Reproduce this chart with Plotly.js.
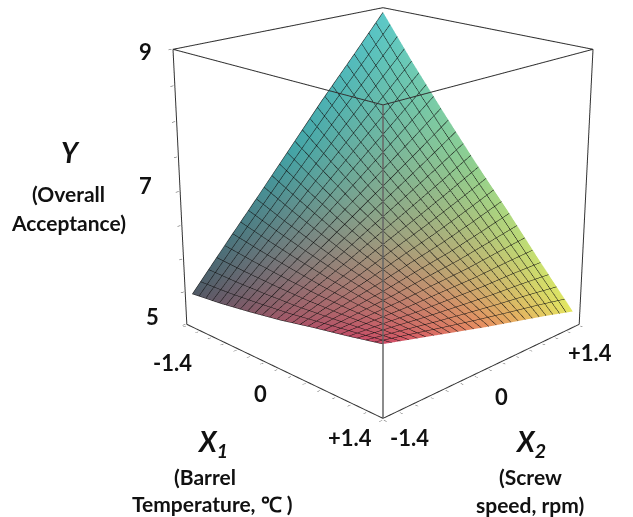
<!DOCTYPE html>
<html><head><meta charset="utf-8">
<script src="https://cdn.plot.ly/plotly-3.0.1.min.js"></script>
<style>html,body{margin:0;padding:0;background:#fff;overflow:hidden;width:633px;height:517px}
#c{position:absolute;left:-317px;top:-381px;width:1400px;height:1145px}</style>
</head><body><div id="c"></div>
<script>
const x1Coded = [-1.35,-0.9,-0.45,0,0.45,0.9,1.35];
const x2Coded = [-1.35,-0.9,-0.45,0,0.45,0.9,1.35];
// rows: X2, columns: X1
const overall = [
 [5.47,5.52,5.59,5.67,5.77,5.86,5.96],
 [6.06,5.99,5.93,5.88,5.85,5.84,5.83],
 [6.64,6.44,6.26,6.09,5.94,5.81,5.70],
 [7.23,6.91,6.60,6.32,6.05,5.80,5.57],
 [7.82,7.37,6.94,6.54,6.15,5.79,5.45],
 [8.38,7.82,7.28,6.77,6.28,5.80,5.33],
 [8.95,8.27,7.63,7.01,6.42,5.80,5.20]];
const xTicks = [-1.4,-1.2,-1,-0.8,-0.6,-0.4,-0.2,0,0.2,0.4,0.6,0.8,1,1.2,1.4];
const zTicks = [5,5.5,6,6.5,7,7.5,8,8.5,9];
const colorKeys = [
 [[80,90,102],[160,88,104],[208,74,104]],
 [[66,165,168],[154,158,128],[232,144,96]],
 [[92,200,200],[143,208,144],[229,232,96]]];
const L=-317,T=-381,W=1400,H=1145;
function mix(a,b,t){return a.map((v,i)=>v+(b[i]-v)*t);}
function colorAt(i,j){
  const r=j/3,c=i/3,r0=Math.min(Math.floor(r),1),c0=Math.min(Math.floor(c),1);
  const top=mix(colorKeys[r0][c0],colorKeys[r0][c0+1],c-c0);
  const bot=mix(colorKeys[r0+1][c0],colorKeys[r0+1][c0+1],c-c0);
  const m=mix(top,bot,r-r0);
  return 'rgb('+m.map(Math.round).join(',')+')';
}
const mx=[],my=[],mz=[],vc=[],ti=[],tj=[],tk=[];
x2Coded.forEach((y,j)=>x1Coded.forEach((x,i)=>{mx.push(x);my.push(y);mz.push(overall[j][i]);vc.push(colorAt(i,j));}));
for(let j=0;j<6;j++)for(let i=0;i<6;i++){const a=j*7+i,b=a+1,c=a+7,d=c+1;ti.push(a,a);tj.push(b,d);tk.push(d,c);}
const fill={type:'mesh3d',x:mx,y:my,z:mz,i:ti,j:tj,k:tk,vertexcolor:vc,flatshading:false,
  lighting:{ambient:1,diffuse:0,specular:0,roughness:1,fresnel:0},hoverinfo:'skip'};
const wire={type:'surface',x:x1Coded,y:x2Coded,z:overall,hidesurface:true,showscale:false,
  contours:{x:{show:true,start:-1.35,end:1.35,size:0.108,color:'#111',width:2},
            y:{show:true,start:-1.35,end:1.35,size:0.108,color:'#111',width:2},z:{show:false}},hoverinfo:'skip'};
const a=1.4,z0=5,z1=9;
function seg(xs,ys,zs,col,w){return {type:'scatter3d',mode:'lines',x:xs,y:ys,z:zs,line:{color:col,width:w},hoverinfo:'skip'};}
const box=[
 seg([-a,a,a,-a,-a],[-a,-a,a,a,-a],[z1,z1,z1,z1,z1],'#333',2),
 seg([-a,a,a],[-a,-a,a],[z0,z0,z0],'#333',2),
 seg([-a,-a],[-a,-a],[z0,z1],'#333',2),
 seg([a,a],[a,a],[z0,z1],'#333',2),
 seg([a,a],[-a,-a],[z0,z1],'#666',3)];
function ax(vals,range){return {range:range,tickvals:vals,showticklabels:false,title:{text:''},
  showgrid:false,zeroline:false,showbackground:false,showspikes:false,showline:false,ticks:'outside',ticklen:3,tickcolor:'#444'};}
function note(x,y,t,s,st){return {xref:'paper',yref:'paper',x:(x-L)/W,y:1-(y-T)/H,text:t,showarrow:false,xanchor:'center',yanchor:'middle',
  font:{family:'Lato',size:s,color:'#111',weight:700,style:st||'normal'}};}
const layout={width:W,height:H,margin:{l:0,r:0,t:0,b:0},paper_bgcolor:'#fff',showlegend:false,
 scene:{domain:{x:[0,1],y:[0,1]},aspectmode:'manual',aspectratio:{x:1,y:1,z:1.015},
  xaxis:ax(xTicks,[-1.41,1.41]),yaxis:ax(xTicks,[-1.41,1.41]),zaxis:ax(zTicks,[4.98,9.02]),
  camera:{eye:{x:3.2,y:-3.2,z:1.55},center:{x:0,y:0,z:0},up:{x:0,y:0,z:1},projection:{type:'perspective'}}},
 annotations:[note(70,152,'Y',28,'italic'),note(68,194,'(Overall',21),note(68,222,'Acceptance)',21),
  note(212,443,'X<sub>1</sub>',28,'italic'),note(205,476,'(Barrel',21),note(212,503,'Temperature, ℃ )',21),
  note(530,443,'X<sub>2</sub>',28,'italic'),note(530,476,'(Screw',21),note(530,504,'speed, rpm)',21),
  note(145,52,'9',22),note(145,185,'7',22),note(152,316,'5',22),
  note(173,362,'-1.4',22),note(260,393,'0',22),note(350,437,'+1.4',22),
  note(410,437,'-1.4',22),note(501,396,'0',22),note(590,352,'+1.4',22)]};
Plotly.newPlot('c',[fill,wire,...box],layout,{displayModeBar:false});
</script></body></html>
